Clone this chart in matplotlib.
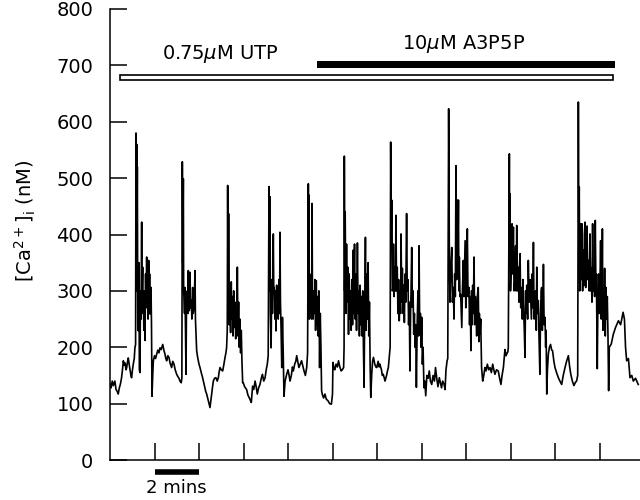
import matplotlib
matplotlib.use("Agg")
import matplotlib.pyplot as plt

# [Ca2+]i trace, time in minutes, concentration in nM
t_min = [
    # resting level
    0.00, 0.05, 0.10, 0.15, 0.22, 0.27, 0.32, 0.37, 0.42, 0.47, 0.52, 0.56, 0.60, 0.64,
    0.68, 0.72, 0.75, 0.79, 0.82, 0.86, 0.90, 0.94, 0.97, 1.01, 1.05, 1.09, 1.12, 1.15,
    # burst 1
    1.168, 1.18, 1.20, 1.215, 1.228, 1.25, 1.273, 1.30, 1.32, 1.348, 1.37, 1.395, 1.423,
    1.44, 1.468, 1.48, 1.498, 1.52, 1.543, 1.573, 1.60, 1.618, 1.648, 1.67, 1.693, 1.71,
    1.738, 1.76, 1.78, 1.798, 1.82, 1.843, 1.865, 1.888,
    1.92, 1.948, 2.00, 2.05, 2.10, 2.15, 2.20, 2.247, 2.30, 2.37, 2.42, 2.47, 2.51, 2.547,
    2.60, 2.65, 2.70, 2.77, 2.82, 2.876, 2.93, 2.997, 3.05, 3.10, 3.146, 3.20, 3.23,
    # burst 2
    3.251, 3.27, 3.296, 3.31, 3.33, 3.35, 3.37, 3.39, 3.416, 3.44, 3.476, 3.50, 3.52, 3.54,
    3.566, 3.58, 3.596, 3.62, 3.656, 3.68, 3.716, 3.74, 3.776, 3.80, 3.82, 3.84, 3.865, 3.895,
    3.94, 4.00, 4.045, 4.10, 4.15, 4.195, 4.25, 4.30, 4.345, 4.40, 4.45, 4.494, 4.53, 4.57,
    4.61, 4.644, 4.70, 4.76, 4.82, 4.87, 4.90, 4.944, 5.00, 5.064, 5.12, 5.17, 5.21, 5.24, 5.27,
    # burst 3
    5.288, 5.31, 5.33, 5.36, 5.39, 5.42, 5.45, 5.47, 5.50, 5.53, 5.56, 5.59, 5.62, 5.65,
    5.68, 5.70, 5.723, 5.75, 5.78, 5.81, 5.84, 5.87, 5.90, 5.93, 5.963,
    5.99, 6.05, 6.14, 6.20, 6.29, 6.35, 6.41, 6.46, 6.52, 6.57, 6.62, 6.68, 6.74, 6.80,
    6.85, 6.91, 6.97, 7.02, 7.07, 7.11,
    # burst 4
    7.146, 7.17, 7.19, 7.21, 7.24, 7.27, 7.30, 7.34, 7.36, 7.38, 7.41, 7.43, 7.46, 7.49,
    7.51, 7.53, 7.56, 7.59, 7.62, 7.64, 7.66, 7.69, 7.72, 7.75, 7.78, 7.82,
    7.87, 7.94, 8.00, 8.05, 8.09, 8.15, 8.20, 8.24, 8.30, 8.35, 8.39, 8.44, 8.49, 8.55,
    8.61, 8.66, 8.72, 8.78, 8.84, 8.88,
    # burst 5
    8.914, 8.93, 8.94, 8.96, 8.98, 9.01, 9.04, 9.06, 9.08, 9.10, 9.13, 9.16, 9.19, 9.21,
    9.24, 9.27, 9.30, 9.33, 9.36, 9.39, 9.42, 9.45, 9.48, 9.51,
    9.55, 9.60, 9.66, 9.72, 9.80, 9.87, 9.95, 10.00, 10.02, 10.06, 10.10, 10.16, 10.22,
    10.27, 10.33, 10.39, 10.44, 10.50, 10.52,
    # burst 6 (A3P5P on)
    10.532, 10.55, 10.57, 10.60, 10.63, 10.66, 10.69, 10.72, 10.75, 10.78, 10.81, 10.84,
    10.87, 10.90, 10.93, 10.95, 10.99, 11.02, 11.05, 11.08, 11.12, 11.15, 11.18, 11.21,
    11.24, 11.27, 11.30, 11.33, 11.36, 11.39, 11.42, 11.45, 11.48, 11.51, 11.54, 11.57,
    11.60, 11.63, 11.66, 11.69, 11.72, 11.76, 11.80,
    11.84, 11.90, 11.95, 11.99, 12.05, 12.10, 12.13, 12.20, 12.24, 12.28, 12.33, 12.36,
    12.43, 12.47, 12.51, 12.55, 12.59,
    # burst 7
    12.614, 12.64, 12.66, 12.69, 12.72, 12.74, 12.77, 12.80, 12.83, 12.85, 12.88, 12.91,
    12.94, 12.97, 13.00, 13.03, 13.06, 13.08, 13.11, 13.14, 13.17, 13.20, 13.23, 13.26,
    13.29, 13.33, 13.36, 13.39, 13.42, 13.45, 13.48, 13.51, 13.53, 13.56, 13.59, 13.62,
    13.65, 13.68, 13.71, 13.74, 13.77, 13.81, 13.84, 13.87, 13.89, 13.92, 13.95, 13.98,
    14.01, 14.04, 14.07, 14.11,
    14.15, 14.19, 14.24, 14.30, 14.35, 14.40, 14.46, 14.52, 14.58, 14.63, 14.68, 14.74,
    14.80, 14.86, 14.90, 14.95, 15.01, 15.06, 15.10, 15.15, 15.18,
    # burst 8
    15.22, 15.25, 15.28, 15.31, 15.36, 15.39, 15.43, 15.46, 15.49, 15.52, 15.55, 15.58,
    15.61, 15.63, 15.66, 15.68, 15.70, 15.73, 15.76, 15.79, 15.81, 15.84, 15.88, 15.91,
    15.93, 15.96, 15.99, 16.02, 16.06, 16.09, 16.13, 16.16, 16.19, 16.22, 16.25, 16.28,
    16.30, 16.33, 16.36, 16.39, 16.42, 16.45, 16.48, 16.51, 16.55, 16.58, 16.60, 16.63,
    16.66, 16.70, 16.75,
    16.80, 16.85, 16.90, 16.96, 17.02, 17.08, 17.14, 17.20, 17.25, 17.30, 17.37, 17.45,
    17.51, 17.57, 17.62, 17.68, 17.75, 17.80, 17.83, 17.88, 17.90,
    # burst 9
    17.948, 17.97, 17.98, 18.00, 18.02, 18.05, 18.07, 18.10, 18.13, 18.16, 18.20, 18.23,
    18.25, 18.28, 18.31, 18.35, 18.38, 18.40, 18.43, 18.46, 18.50, 18.53, 18.56, 18.58,
    18.62, 18.65, 18.68, 18.70, 18.73, 18.77, 18.80, 18.84, 18.88, 18.91, 18.94, 18.97,
    19.00, 19.03, 19.06, 19.10, 19.13, 19.16, 19.18, 19.21, 19.25, 19.28, 19.32, 19.35,
    19.38, 19.40, 19.43, 19.46, 19.48, 19.51, 19.55, 19.58, 19.60, 19.63,
    19.66, 19.70, 19.75, 19.80, 19.85, 19.89, 19.95, 20.00, 20.07, 20.15, 20.22, 20.30,
    20.37, 20.45, 20.52, 20.60, 20.66, 20.71, 20.78, 20.85, 20.92, 20.97, 21.02,
    # burst 10
    21.05, 21.07, 21.09, 21.11, 21.14, 21.17, 21.19, 21.21, 21.24, 21.27, 21.30, 21.32,
    21.35, 21.38, 21.41, 21.44, 21.47, 21.51, 21.54, 21.57, 21.60, 21.63, 21.66, 21.69,
    21.72, 21.75, 21.78, 21.81, 21.84, 21.86, 21.90, 21.93, 21.96, 21.99, 22.02, 22.05,
    22.08, 22.11, 22.13, 22.15, 22.17, 22.20, 22.23, 22.26, 22.29, 22.32, 22.35, 22.38,
    22.41, 22.44,
    22.53, 22.62, 22.72, 22.85, 22.95, 23.06, 23.12, 23.17, 23.22, 23.30, 23.37, 23.45,
    23.52, 23.62, 23.74,
]
ca_nm = [
    135, 128, 140, 132, 140, 125, 122, 117, 128, 135, 146, 160, 176, 168,
    172, 160, 164, 175, 181, 170, 160, 150, 146, 160, 171, 180, 199, 205,
    580, 300, 560, 420, 520, 240, 229, 350, 160, 155, 300, 250, 422,
    280, 342, 260, 300, 230, 300, 212, 330, 270, 360, 290, 300, 250,
    354, 270, 330, 259, 300, 306, 240, 113,
    150, 176, 185, 180, 188, 195, 190, 199, 196, 205, 195, 188, 180, 176,
    185, 182, 172, 164, 175, 170, 160, 152, 148, 145, 140, 137, 145,
    529, 350, 499, 300, 283, 260, 306, 240, 152, 290, 300, 260, 336, 270,
    265, 300, 333, 270, 283, 250, 306, 260, 271, 300, 336, 250, 223, 194,
    182, 170, 164, 155, 148, 140, 130, 122, 117, 108, 100, 93, 105, 117,
    130, 140, 145, 146, 140, 146, 155, 164, 160, 158, 170, 182, 190, 199, 230,
    487, 260, 437, 240, 290, 226, 316, 250, 290, 220, 300, 235, 280, 215,
    260, 230, 342, 220, 280, 200, 250, 190, 230, 175, 137,
    137, 130, 125, 115, 108, 102, 131, 125, 140, 130, 117, 128, 134, 145,
    152, 140, 146, 160, 170, 185,
    485, 300, 467, 260, 199, 320, 260, 401, 300, 306, 250, 300, 229, 310,
    270, 300, 250, 320, 260, 404, 283, 230, 164, 253, 200, 113,
    140, 152, 160, 150, 140, 150, 165, 158, 170, 175, 185, 175, 164, 170,
    176, 168, 158, 150, 164, 190,
    490, 300, 470, 250, 330, 270, 300, 250, 455, 290, 250, 300, 260, 320,
    230, 318, 240, 290, 220, 300, 164, 260, 200, 123,
    115, 110, 117, 108, 105, 100, 99, 117, 173, 164, 160, 170, 165,
    176, 165, 158, 160, 164, 200,
    539, 300, 440, 260, 383, 280, 342, 223, 330, 250, 300, 230,
    320, 240, 372, 260, 383, 250, 330, 230, 385, 260, 300, 220,
    310, 240, 290, 220, 300, 200, 129, 280, 395, 230, 330, 250,
    350, 220, 280, 170, 111, 150, 175,
    182, 170, 165, 164, 175, 165, 170, 160, 150, 152, 145, 140,
    150, 158, 164, 182, 200,
    564, 380, 461, 300, 306, 383, 290, 342, 300, 434, 300, 342,
    260, 320, 247, 300, 260, 401, 280, 340, 260, 310, 244, 330,
    280, 437, 300, 320, 240, 280, 158, 260, 300, 377, 271, 300,
    223, 260, 200, 240, 129, 250, 300, 220, 380, 223, 260, 200,
    253, 170, 200, 128,
    140, 114, 150, 145, 158, 140, 134, 150, 140, 164, 146, 130,
    146, 135, 128, 140, 135, 125, 160, 176, 180,
    623, 380, 280, 330, 377, 280, 306, 250, 330, 290, 522, 320,
    461, 340, 461, 300, 360, 290, 294, 260, 235, 300, 354, 290,
    330, 389, 270, 320, 410, 290, 306, 240, 290, 194, 300, 240,
    310, 260, 360, 240, 290, 259, 220, 290, 306, 210, 260, 223,
    250, 164, 140,
    150, 164, 158, 170, 160, 164, 155, 170, 160, 152, 160, 158,
    145, 134, 150, 164, 196, 185, 188, 192, 199,
    543, 350, 472, 300, 330, 400, 419, 330, 413, 300, 318, 380,
    300, 416, 300, 342, 280, 340, 366, 270, 306, 250, 320, 280,
    230, 182, 300, 260, 310, 250, 354, 280, 320, 283, 250, 330,
    270, 386, 250, 271, 300, 230, 342, 260, 283, 220, 152, 260,
    300, 306, 230, 280, 347, 240, 253, 200, 230, 117,
    160, 188, 200, 205, 195, 194, 175, 164, 155, 146, 140, 134,
    150, 164, 175, 185, 165, 152, 140, 132, 138, 140, 150,
    635, 420, 484, 300, 330, 419, 320, 419, 300, 372, 310, 400,
    422, 306, 350, 415, 320, 354, 300, 401, 300, 340, 280, 419,
    300, 342, 290, 425, 300, 330, 162, 290, 330, 260, 310, 389,
    250, 300, 410, 230, 283, 240, 340, 220, 306, 250, 290, 223,
    123, 200,
    206, 223, 235, 247, 240, 262, 250, 200, 176, 180, 146, 150,
    140, 145, 134,
]

# drug application bars: start and end (min) and level (nM)
utp_bar = [0.45, 22.6]
a3p5p_bar = [9.29, 22.7]
utp_level = 679
a3p5p_level = 702

x_ticks = [2, 4, 6, 8, 10, 12, 14, 16, 18, 20, 22]
y_ticks = [0, 100, 200, 300, 400, 500, 600, 700, 800]
scale_bar = [2, 4]

fig = plt.figure(figsize=(6.4, 5.0), dpi=100)
ax = fig.add_axes([110 / 640, 40 / 500, 530 / 640, 451 / 500])

ax.plot(t_min, ca_nm, color="black", lw=1.2)

ax.barh(utp_level, utp_bar[1] - utp_bar[0], left=utp_bar[0], height=9,
        color="white", edgecolor="black", lw=1.2)
ax.barh(a3p5p_level, a3p5p_bar[1] - a3p5p_bar[0], left=a3p5p_bar[0], height=12,
        color="black")
ax.text(4.94, 711, r"0.75$\mu$M UTP", ha="center", va="baseline", fontsize=14)
ax.text(15.87, 729, r"10$\mu$M A3P5P", ha="center", va="baseline", fontsize=14)

ax.set_xlim(0, 23.82)
ax.set_ylim(0, 800)
ax.set_xticks(x_ticks)
ax.set_xticklabels([])
ax.set_yticks(y_ticks)
ax.tick_params(axis="both", direction="in", length=12, width=1.1)
ax.tick_params(axis="y", labelsize=14, pad=12)

for side in ["top", "right"]:
    ax.spines[side].set_visible(False)
for side in ["left", "bottom"]:
    ax.spines[side].set_linewidth(1.1)

ax.set_ylabel(r"[Ca$^{2+}$]$_{\rm i}$ (nM)", fontsize=14)
ax.yaxis.set_label_coords(-0.135, 0.53)

# time scale bar under the axis
ax.plot(scale_bar, [-22, -22], color="black", lw=4, solid_capstyle="butt", clip_on=False)
ax.text(sum(scale_bar) / 2, -50, "2 mins", ha="center", va="center", fontsize=13)

fig.savefig("out.png", dpi=100)
